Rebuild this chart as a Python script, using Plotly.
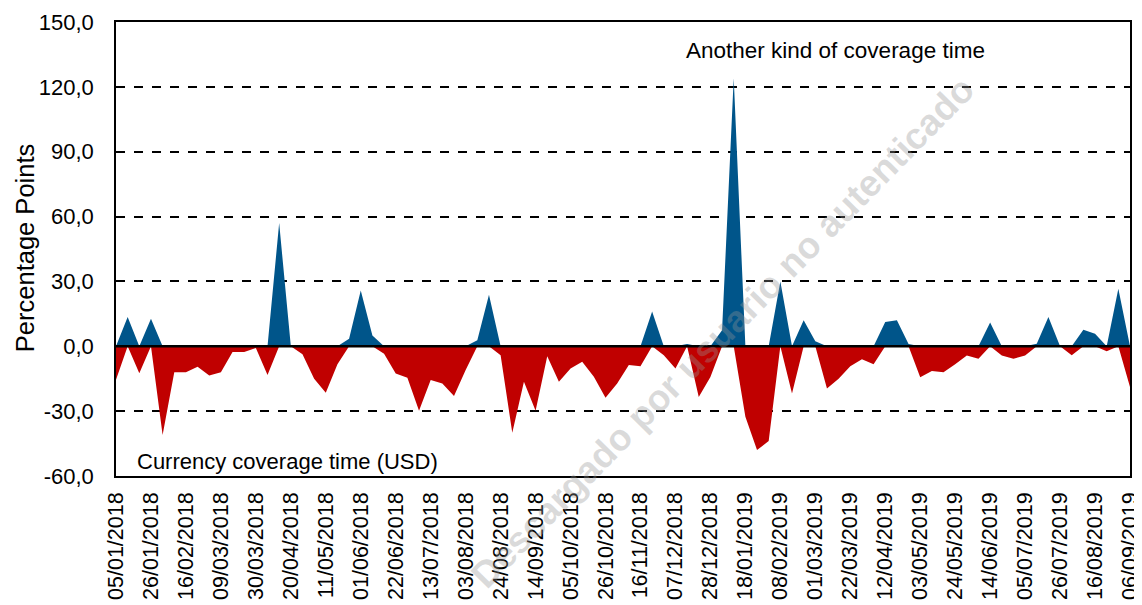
import plotly.graph_objects as go
import pandas as pd

# Weekly categories (Fridays) 05/01/2018 .. 06/09/2019
dates = pd.date_range("2018-01-05", "2019-09-06", freq="7D").strftime("%d/%m/%Y").tolist()

# Positive series (blue) - "Another kind of coverage time"
another_kind = [
    0, 13.5, 0, 12.7, 0, 0, 0, 0, 0, 0,
    0, 0, 0, 0, 57, 0, 0, 0, 0, 0,
    3.5, 25.8, 5, 0, 0, 0, 0, 0, 0, 0,
    0, 2.8, 23.8, 0, 0, 0, 0, 0, 0, 0,
    0, 0, 0, 0, 0, 0, 16.1, 0, 0, 1,
    0, 0, 7.4, 124, 0, 0, 0, 30, 0, 12,
    2.3, 0, 0, 0, 0, 0, 11.2, 12, 1, 0,
    0, 0, 0, 0, 0, 11, 0, 0, 0, 1.2,
    13.5, 0, 0, 7.7, 5.8, 0, 26.6, 0,
]

# Negative series (red) - "Currency coverage time (USD)"
currency = [
    -15.5, 0, -12.5, 0, -41, -12, -12, -9.5, -13.5, -12,
    -2.6, -2.6, -0.8, -13.3, 0, 0, -3.7, -15, -21.5, -8.3,
    0, 0, 0, -3.4, -12.6, -14.5, -29.8, -15.6, -17.2, -23,
    -11, 0, 0, -4.1, -40, -16.4, -29.8, -4.6, -16.4, -10.3,
    -7.2, -14.1, -23.8, -17.2, -8.7, -9.2, 0, -4.1, -10.3, 0,
    -23.5, -14.2, 0, 0, -32.6, -48, -43.8, 0, -21.8, 0,
    0, -19.5, -15, -9.2, -6, -8.3, 0, 0, 0, -14.3,
    -11.4, -12, -8.3, -4.3, -5.8, 0, -4.3, -5.8, -4.3, 0,
    0, 0, -4.2, 0, 0, -2.3, 0, -18.8,
]

x_index = list(range(len(dates)))
x_tick_vals = x_index[::3]
x_tick_labels = dates[::3]

y_tick_vals = [-60, -30, 0, 30, 60, 90, 120, 150]
y_tick_labels = ["-60,0", "-30,0", "0,0", "30,0", "60,0", "90,0", "120,0", "150,0"]

FONT = "Liberation Sans, Arial, sans-serif"

fig = go.Figure()
fig.add_trace(go.Scatter(
    x=x_index, y=currency, mode="none", fill="tozeroy",
    fillcolor="#C00000", name="Currency coverage time (USD)",
))
fig.add_trace(go.Scatter(
    x=x_index, y=another_kind, mode="none", fill="tozeroy",
    fillcolor="#00558A", name="Another kind of coverage time",
))

fig.add_shape(type="line", xref="x domain", x0=0, x1=1, yref="y", y0=0, y1=0,
              line=dict(color="black", width=2.5), layer="above")

# page body adds an 8px offset, so the figure is sized 8px smaller
fig.update_layout(
    width=1134, height=597,
    margin=dict(l=108, r=12, t=14, b=129),
    paper_bgcolor="white", plot_bgcolor="white",
    showlegend=False,
    font=dict(family=FONT, size=21, color="black"),
    xaxis=dict(
        range=[0, len(dates) - 1], automargin=False,
        tickmode="array", tickvals=x_tick_vals, ticktext=x_tick_labels,
        tickangle=-90, tickfont=dict(size=21.5),
        showgrid=False, zeroline=False,
        showline=True, mirror=True, linecolor="black", linewidth=1.5,
        ticks="", ticklabelstandoff=6,
    ),
    yaxis=dict(
        range=[-60, 150], automargin=False,
        tickmode="array", tickvals=y_tick_vals, ticktext=y_tick_labels,
        tickfont=dict(size=22),
        showgrid=True, gridcolor="black", griddash="dash", gridwidth=1.5,
        zeroline=False,
        showline=True, mirror=True, linecolor="black", linewidth=1.5,
        ticks="", ticklabelstandoff=16,
    ),
    annotations=[
        dict(text="Percentage Points", textangle=-90, xref="paper", yref="paper",
             x=-0.0897, y=0.502, xanchor="center", yanchor="middle",
             showarrow=False, font=dict(size=25.5)),
        dict(text="Another kind of coverage time", xref="paper", yref="paper",
             x=0.71, y=0.938, xanchor="center", yanchor="middle",
             showarrow=False, font=dict(size=22.5)),
        dict(text="Currency coverage time (USD)", xref="paper", yref="paper",
             x=0.0187, y=0.031, xanchor="left", yanchor="middle",
             showarrow=False, font=dict(size=22)),
        dict(text="<b>Descargado por usuario no autenticado</b>", textangle=-45.5,
             xref="paper", yref="paper", x=0.598, y=0.317,
             xanchor="center", yanchor="middle", showarrow=False,
             font=dict(size=37, color="rgba(150,150,150,0.35)")),
    ],
)

fig.write_html("out.html")
